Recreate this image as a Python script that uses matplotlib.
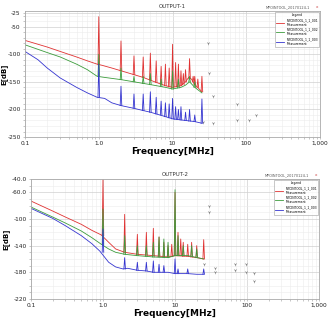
import numpy as np
import matplotlib
matplotlib.use("Agg")
import matplotlib.pyplot as plt
from matplotlib.ticker import FixedLocator, MultipleLocator, NullFormatter, LogLocator

# ---------------- OUTPUT-1 data ----------------
o1_red_f = [0.1, 0.2, 0.3, 0.5, 0.7, 0.95, 1.1, 1.5, 2, 3, 4, 5, 6, 8, 10, 13, 15, 16.5, 18, 20, 23, 25]
o1_red_db = [-75, -87, -95, -105, -112, -118, -120, -125, -130, -137, -142, -147, -151, -157, -160, -157, -150, -142, -145, -155, -163, -168]
o1_grn_f = [0.1, 0.2, 0.3, 0.5, 0.7, 0.95, 1.2, 2, 3, 5, 8, 10, 13, 15, 17, 20, 25]
o1_grn_db = [-83, -97, -105, -118, -128, -140, -142, -146, -150, -155, -160, -163, -160, -156, -150, -160, -170]
o1_blu_f = [0.1, 0.15, 0.2, 0.3, 0.5, 0.7, 0.95, 1.2, 1.5, 2, 3, 4, 5, 8, 10, 15, 20, 25]
o1_blu_db = [-95, -110, -125, -143, -160, -170, -178, -180, -188, -193, -198, -202, -205, -213, -217, -220, -222, -225]

# peaks: frequency, base level, top level
o1_red_pk_f = [1, 2, 3, 4, 5, 6, 7, 8, 9, 10, 11, 12, 13, 14, 15, 17, 19, 20, 22, 25]
o1_red_pk_base = [-119, -130, -137, -142, -147, -151, -154, -157, -159, -160, -159, -158, -157, -155, -150, -144, -150, -155, -160, -168]
o1_red_pk_top = [-32, -76, -103, -105, -98, -112, -122, -118, -125, -82, -115, -118, -130, -135, -128, -108, -140, -140, -145, -140]
o1_grn_pk_f = [1, 2, 3, 4, 5, 7, 10, 12, 17, 20]
o1_grn_pk_base = [-140, -146, -150, -153, -155, -158, -163, -161, -150, -160]
o1_grn_pk_top = [-100, -125, -140, -140, -135, -145, -130, -145, -140, -150]
o1_blu_pk_f = [1, 2, 3, 4, 5, 6, 7, 8, 9, 10, 11, 12, 13, 15, 17, 20, 25]
o1_blu_pk_base = [-178, -193, -198, -202, -205, -208, -210, -213, -215, -217, -218, -218, -219, -220, -221, -222, -225]
o1_blu_pk_top = [-118, -158, -172, -172, -168, -178, -185, -188, -190, -180, -195, -200, -195, -205, -200, -210, -181]

o1_mark_f = [30, 31, 35, 75, 135, 107, 75, 35, 26]
o1_mark_db = [-80, -134, -176, -191, -210, -220, -220, -225, -222]

# ---------------- OUTPUT-2 data ----------------
o2_red_f = [0.1, 0.2, 0.3, 0.5, 0.7, 0.95, 1.2, 1.5, 2, 3, 5, 8, 10, 15, 20, 25]
o2_red_db = [-73, -88, -97, -108, -117, -124, -135, -145, -150, -153, -155, -157, -155, -156, -158, -160]
o2_grn_f = [0.1, 0.2, 0.3, 0.5, 0.7, 0.95, 1.2, 1.5, 2, 3, 5, 8, 10, 15, 25]
o2_grn_db = [-82, -97, -106, -118, -128, -138, -145, -150, -153, -155, -157, -158, -155, -155, -160]
o2_blu_f = [0.1, 0.2, 0.3, 0.5, 0.7, 0.9, 1.2, 1.5, 1.9, 2.2, 3, 4, 5, 8, 10, 15, 20, 25]
o2_blu_db = [-84, -99, -110, -125, -137, -148, -165, -172, -175, -174, -177, -178, -180, -180, -182, -182, -183, -183]

o2_red_pk_f = [1, 2, 3, 4, 5, 6, 7, 8, 9, 10, 11, 12, 13, 15, 17, 20, 25]
o2_red_pk_base = [-125, -150, -153, -154, -155, -156, -156, -157, -156, -155, -155, -155, -156, -156, -157, -158, -160]
o2_red_pk_top = [-41, -93, -123, -120, -114, -127, -135, -140, -138, -60, -120, -130, -135, -138, -135, -140, -131]
o2_grn_pk_f = [1, 2, 3, 4, 5, 6, 7, 8, 10, 11, 13, 17, 20]
o2_grn_pk_base = [-138, -153, -155, -156, -157, -157, -158, -158, -155, -155, -155, -156, -158]
o2_grn_pk_top = [-85, -125, -140, -140, -135, -127, -130, -135, -56, -125, -140, -140, -145]
o2_blu_pk_f = [1, 2, 3, 4, 5, 6, 7, 10, 11, 15, 25]
o2_blu_pk_base = [-150, -175, -177, -178, -180, -180, -180, -182, -182, -182, -183]
o2_blu_pk_top = [-115, -158, -165, -165, -163, -168, -170, -160, -175, -175, -175]

o2_mark_f = [29.5, 29.5, 25, 36, 36, 68, 68, 97, 97, 124, 124]
o2_mark_db = [-80, -89, -167, -173, -180, -167, -177, -167, -180, -181, -193]

RED = "#e03232"
GRN = "#3c9c3c"
BLU = "#3535d0"
GRID_MAJ = "#d0d0d0"
GRID_MIN = "#ececec"

plt.rcParams.update({"font.family": "DejaVu Sans"})

fig = plt.figure(figsize=(3.29, 3.18), dpi=100)
ax1 = fig.add_axes([0.076, 0.569, 0.897, 0.396])
ax2 = fig.add_axes([0.094, 0.06, 0.876, 0.377])


def draw_trace(ax, f, db, pk_f, pk_base, pk_top, color):
    ax.plot(f, db, color=color, lw=0.6)
    for pf, pb, pt in zip(pk_f, pk_base, pk_top):
        ax.plot([pf * 0.975, pf, pf * 1.025], [pb, pt, pb], color=color, lw=0.6)


def style_axes(ax, title, yticks, ylabels, ylim, ylab_x):
    ax.set_xscale("log")
    ax.set_xlim(0.1, 1000)
    ax.set_ylim(*ylim)
    ax.xaxis.set_major_locator(FixedLocator([0.1, 1, 10, 100, 1000]))
    ax.set_xticklabels(["0.1", "1.0", "10", "100", "1,000"], fontsize=4.2)
    ax.xaxis.set_minor_locator(LogLocator(base=10, subs=np.arange(2, 10)))
    ax.xaxis.set_minor_formatter(NullFormatter())
    ax.set_yticks(yticks)
    ax.set_yticklabels(ylabels, fontsize=4.2)
    ax.yaxis.set_minor_locator(MultipleLocator(10))
    ax.grid(which="major", color=GRID_MAJ, lw=0.5)
    ax.grid(which="minor", color=GRID_MIN, lw=0.4)
    ax.set_axisbelow(True)
    ax.tick_params(which="both", length=1.5, width=0.4, pad=1.5, colors="#999999",
                   labelcolor="#222222")
    for sp in ax.spines.values():
        sp.set_color("#aaaaaa")
        sp.set_linewidth(0.6)
    ax.set_xlabel("Frequency[MHz]", fontsize=6.5, fontweight="bold", labelpad=0.5)
    ax.set_ylabel("E[dB]", fontsize=5, fontweight="bold")
    ax.yaxis.set_label_coords(ylab_x, 0.5)
    ax.set_title(title, fontsize=4, color="#333333", pad=2)
    ax.text(0.965, 1.015, "MPOINTOOL_20170124-1", transform=ax.transAxes,
            fontsize=2.5, color="#555555", ha="right", va="bottom")
    ax.text(0.995, 1.015, "x", transform=ax.transAxes,
            fontsize=3, color="#cc4444", ha="right", va="bottom")


draw_trace(ax1, o1_red_f, o1_red_db, o1_red_pk_f, o1_red_pk_base, o1_red_pk_top, RED)
draw_trace(ax1, o1_grn_f, o1_grn_db, o1_grn_pk_f, o1_grn_pk_base, o1_grn_pk_top, GRN)
draw_trace(ax1, o1_blu_f, o1_blu_db, o1_blu_pk_f, o1_blu_pk_base, o1_blu_pk_top, BLU)
ax1.scatter(o1_mark_f, o1_mark_db, marker="1", s=6, color="#888888", lw=0.5)

draw_trace(ax2, o2_red_f, o2_red_db, o2_red_pk_f, o2_red_pk_base, o2_red_pk_top, RED)
draw_trace(ax2, o2_grn_f, o2_grn_db, o2_grn_pk_f, o2_grn_pk_base, o2_grn_pk_top, GRN)
draw_trace(ax2, o2_blu_f, o2_blu_db, o2_blu_pk_f, o2_blu_pk_base, o2_blu_pk_top, BLU)
ax2.scatter(o2_mark_f, o2_mark_db, marker="1", s=6, color="#888888", lw=0.5)

style_axes(ax1, "OUTPUT-1", [-25, -50, -100, -150, -200, -250],
           ["-25", "-50", "-100", "-150", "-200", "-250"], (-250, -22), -0.06)
style_axes(ax2, "OUTPUT-2", [-40, -60, -100, -140, -180, -220],
           ["-40.0", "-60.0", "-100", "-140", "-180", "-220"], (-220, -40), -0.075)

# small legends, top right
for ax in (ax1, ax2):
    hs = [plt.Line2D([], [], color=c, lw=0.6) for c in (RED, GRN, BLU)]
    leg = ax.legend(hs, ["MPOINTOOL_1_1_001\nMeasurement", "MPOINTOOL_1_1_002\nMeasurement",
                         "MPOINTOOL_1_1_003\nMeasurement"],
                    title="Legend", loc="upper right", fontsize=2.2, title_fontsize=2.2,
                    frameon=True, fancybox=False, borderpad=0.4, handlelength=2.5,
                    labelspacing=0.3, borderaxespad=0.3)
    leg.get_frame().set_edgecolor("#888888")
    leg.get_frame().set_linewidth(0.4)

fig.savefig("out.png", dpi=100)
